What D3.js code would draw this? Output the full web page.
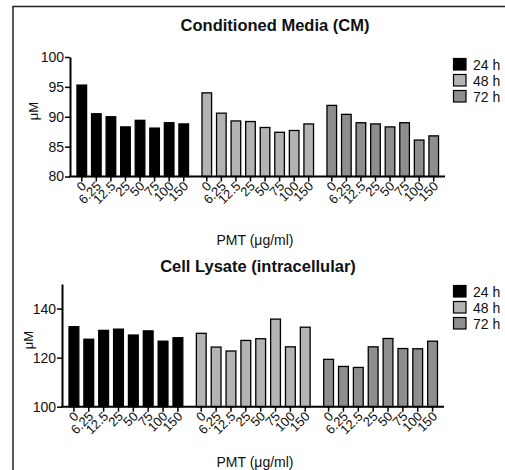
<!DOCTYPE html>
<html>
<head>
<meta charset="utf-8">
<script src="https://cdn.jsdelivr.net/npm/d3@7"></script>
<style>
  body { margin: 0; background: #fff; }
  svg { display: block; font-family: "Liberation Sans", Arial, sans-serif; }
</style>
</head>
<body>
<div id="chart"></div>
<script>
// doses of PMT (ug/ml) and time points
const doses = ["0", "6.25", "12.5", "25", "50", "75", "100", "150"];
const times = ["24 h", "48 h", "72 h"];
const fills = ["#000000", "#b3b3b3", "#8e8e8e"];

// Conditioned media values (uM)
const cm24 = [95.3, 90.5, 90.0, 88.3, 89.4, 88.1, 89.0, 88.8];
const cm48 = [94.0, 90.6, 89.3, 89.2, 88.2, 87.4, 87.7, 88.8];
const cm72 = [91.9, 90.4, 89.0, 88.8, 88.3, 89.0, 86.1, 86.8];

// Cell lysate values (uM)
const lys24 = [132.6, 127.5, 131.1, 131.6, 129.2, 130.9, 126.7, 128.1];
const lys48 = [129.9, 124.3, 122.7, 127.0, 127.7, 135.7, 124.4, 132.4];
const lys72 = [119.3, 116.4, 116.0, 124.4, 127.8, 123.7, 123.6, 126.7];

const cmDomain = [80, 100];
const cmTicks = [80, 85, 90, 95, 100];
const lysDomain = [100, 150];
const lysTicks = [100, 120, 140];

const svg = d3.select("#chart").append("svg")
  .attr("width", 505)
  .attr("height", 470);

// outer frame (right and bottom edges run off the picture)
svg.append("rect")
  .attr("x", 13).attr("y", 6.5)
  .attr("width", 520).attr("height", 500)
  .attr("fill", "none")
  .attr("stroke", "#222")
  .attr("stroke-width", 1.5);

function drawPanel(cfg) {
  const g = svg.append("g");

  const y = d3.scaleLinear().domain(cfg.domain).range([cfg.bottom, cfg.top]);
  const xGroup = d3.scaleBand().domain(times).range([cfg.left, cfg.right]);
  const xDose = d3.scaleBand().domain(doses)
    .range([4.5, xGroup.bandwidth() - 4])
    .paddingInner(0.34)
    .paddingOuter(0.17);

  const rows = [];
  cfg.series.forEach((vals, i) => {
    vals.forEach((v, j) => rows.push({ time: times[i], dose: doses[j], value: v, fill: fills[i] }));
  });

  // bars
  g.selectAll("rect.bar")
    .data(rows)
    .join("rect")
    .attr("class", "bar")
    .attr("x", d => xGroup(d.time) + xDose(d.dose))
    .attr("y", d => y(d.value))
    .attr("width", xDose.bandwidth())
    .attr("height", d => y(cfg.domain[0]) - y(d.value))
    .attr("fill", d => d.fill)
    .attr("stroke", "#000")
    .attr("stroke-width", 1.3);

  // y axis
  const yAxis = g.append("g")
    .attr("transform", `translate(${cfg.left},0)`)
    .call(d3.axisLeft(y).tickValues(cfg.ticks).tickSize(5).tickSizeOuter(0).tickPadding(1));
  yAxis.select(".domain").attr("stroke-width", 2);
  yAxis.selectAll(".tick line").attr("stroke-width", 1.5);
  yAxis.selectAll(".tick text")
    .attr("font-size", 14)
    .attr("font-family", "Liberation Sans, Arial, sans-serif")
    .attr("fill", "#111");

  // x axis line
  g.append("line")
    .attr("x1", cfg.left - 1).attr("x2", cfg.right)
    .attr("y1", y(cfg.domain[0])).attr("y2", y(cfg.domain[0]))
    .attr("stroke", "#000")
    .attr("stroke-width", 2);

  const ticks = g.selectAll("g.xtick")
    .data(rows)
    .join("g")
    .attr("class", "xtick")
    .attr("transform", d => `translate(${xGroup(d.time) + xDose(d.dose) + xDose.bandwidth() / 2},${y(cfg.domain[0])})`);

  ticks.append("line")
    .attr("y2", 5)
    .attr("stroke", "#000")
    .attr("stroke-width", 1.5);

  // dose labels slanted up to the right, ending under the tick
  ticks.append("text")
    .attr("transform", "translate(-1,4) rotate(-45)")
    .attr("text-anchor", "end")
    .attr("dy", "0.7em")
    .attr("font-size", 13)
    .attr("fill", "#111")
    .text(d => d.dose);

  // titles
  g.append("text")
    .attr("x", cfg.titleX).attr("y", cfg.titleY)
    .attr("text-anchor", "middle")
    .attr("font-size", 16.5)
    .attr("font-weight", "bold")
    .attr("fill", "#111")
    .text(cfg.title);

  g.append("text")
    .attr("x", 255).attr("y", cfg.xLabelY)
    .attr("text-anchor", "middle")
    .attr("font-size", 14)
    .attr("fill", "#111")
    .text("PMT (\u03bcg/ml)");

  g.append("text")
    .attr("transform", `translate(${cfg.yLabelX},${cfg.yLabelY}) rotate(-90)`)
    .attr("text-anchor", "middle")
    .attr("font-size", 13)
    .attr("fill", "#111")
    .text("\u03bcM");

  // legend
  const legend = g.append("g")
    .attr("transform", `translate(453,${cfg.legendTop})`);
  const items = legend.selectAll("g")
    .data(times)
    .join("g")
    .attr("transform", (d, i) => `translate(0,${i * 16})`);
  items.append("rect")
    .attr("x", 0.5).attr("y", 0.5)
    .attr("width", 12.5).attr("height", 11.5)
    .attr("fill", (d, i) => fills[i])
    .attr("stroke", "#000")
    .attr("stroke-width", 1.2);
  items.append("text")
    .attr("x", 20).attr("y", 11.5)
    .attr("font-size", 14)
    .attr("fill", "#111")
    .text(d => d);
}

drawPanel({
  title: "Conditioned Media (CM)",
  titleX: 275, titleY: 31,
  series: [cm24, cm48, cm72],
  domain: cmDomain, ticks: cmTicks,
  left: 70, right: 445, top: 57, bottom: 176.5,
  xLabelY: 245,
  yLabelX: 38, yLabelY: 111,
  legendTop: 58
});

drawPanel({
  title: "Cell Lysate (intracellular)",
  titleX: 258, titleY: 272,
  series: [lys24, lys48, lys72],
  domain: lysDomain, ticks: lysTicks,
  left: 62, right: 444, top: 284, bottom: 406.7,
  xLabelY: 467,
  yLabelX: 33, yLabelY: 340,
  legendTop: 285
});
</script>
</body>
</html>
